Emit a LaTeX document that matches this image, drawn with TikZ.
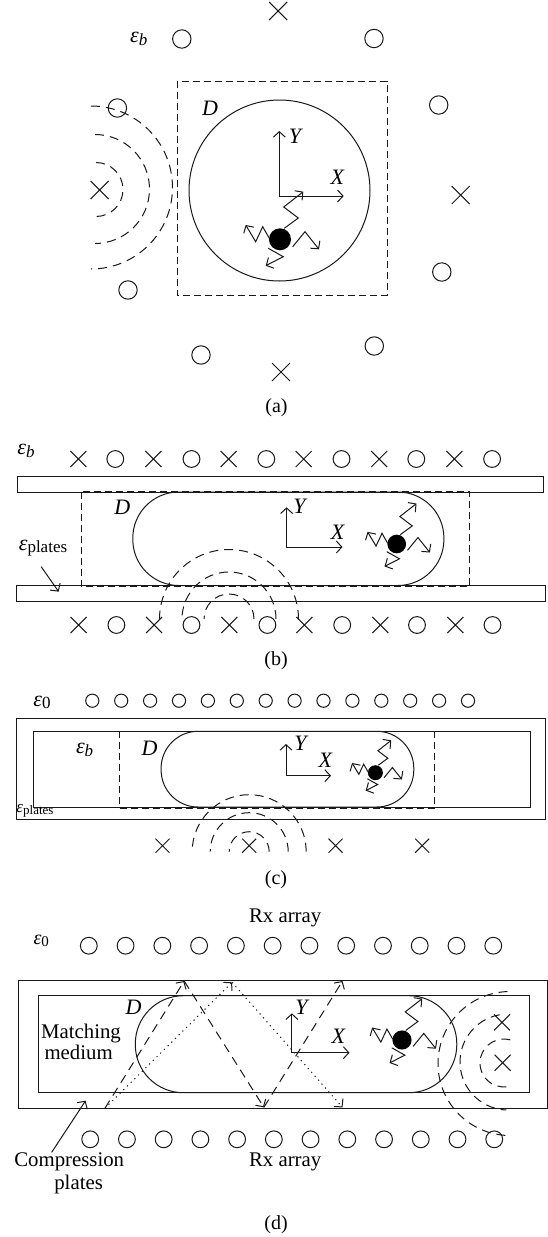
\documentclass[tikz,border=0pt]{standalone}
\usepackage{fontspec}
\setmainfont{Liberation Serif}
\usetikzlibrary{arrows.meta}
\newcommand\fs[1]{\fontsize{#1}{#1}\selectfont}
\newcommand\epsub[3]{{\fs{#1}\itshape ε}{\fs{#2}\raisebox{-.3ex}{#3}}}
\tikzset{
  ln/.style={line width=1pt,black!90},
  rx/.style={ln},
  dsh/.style={ln,dash pattern=on 7pt off 4pt},
  wave/.style={ln,dash pattern=on 9pt off 6pt},
  dot/.style={ln,dash pattern=on 1.2pt off 4pt},
  tip/.style={-{Straight Barb[length=5.5pt,width=12pt,line width=1pt]}},
  barb/.style={ln,tip},
  lab/.style={inner sep=0pt,font=\fs{20}},
  big/.style={inner sep=0pt,font=\fs{20.8}},
  ital/.style={inner sep=0pt,font=\fs{22}\itshape},
}
\newcommand\cir[3]{\draw[rx] (#1,#2) circle[radius=#3 pt];}
\newcommand\crs[3]{\draw[ln] ({#1-#3},{#2-#3}) -- ({#1+#3},{#2+#3}) ({#1-#3},{#2+#3}) -- ({#1+#3},{#2-#3});}
\newcommand\warc[6][wave]{\draw[#1] ({#2+#4*cos(#5)},{#3-#4*sin(#5)}) arc[start angle=#5,end angle=#6,radius=#4 pt];}
\newcommand\zig[3]{\begin{scope}[shift={(#1,#2)},scale=#3]
  \fill[black] (0,0) circle[radius=11pt];
  \draw[barb] (4.3,-11) -- (18.3,-21.3) -- (3.7,-32.3) -- (23.3,-47.6);
  \draw[barb] (12.7,7.4) -- (25,-7.6) -- (39,10);
  \draw[barb] (-10.7,-1) -- (-17.3,-12.6) -- (-24.3,2.4) -- (-34.3,-14.3);
  \draw[barb] (-11.7,9) -- (3.3,17.4) -- (-14.3,26.4);
\end{scope}}
\newcommand\axes[7]{% name, ox, oy, ytop, xend
  \coordinate (#1o) at (#2,#3);
  \coordinate (#1y) at (#2,#4);
  \coordinate (#1x) at (#5,#3);
  \draw[ln,{Straight Barb[length=5.5pt,width=12pt,line width=1pt]}-{Straight Barb[length=5.5pt,width=12pt,line width=1pt]}] (#1y) -- (#1o) -- (#1x);
  \node[ital] (#1Y) at #6 {Y};
  \node[ital] (#1X) at #7 {X};
}
\begin{document}
\begin{tikzpicture}[x=1pt,y=-1pt]
\useasboundingbox[fill=white] (0,0) rectangle (548,1237);

%% (a)
\crs{278.2}{11}{9}\crs{99.6}{190}{9}\crs{460.7}{195}{9}\crs{281}{372}{9}
\foreach \x/\y in {181.8/39,374/38.5,117.4/108,438.7/105,128/290,441.8/272,201/355,374.3/346}{\cir{\x}{\y}{9.2}}
\draw[dsh] (177.2,81) rectangle (387.3,295);
\draw[ln] (279.5,190.5) circle[radius=90.5pt];
\axes{a}{279.3}{196}{131}{343.7}{(295,136)}{(337.3,177)}
\zig{280}{239.3}{1}
\node[ital] (aD) at (210,108) {D};
\node[inner sep=0pt] (aE) at (138.8,39) {\epsub{22}{17}{\itshape b}};
\warc{91}{187.5}{81.5}{90}{-90}
\warc{95}{189}{54.5}{90}{-90}
\warc{96}{189.5}{27}{90}{-90}
\node[lab] (acap) at (276.5,407.5) {(a)};

%% (b)
\node[inner sep=0pt] (bE) at (26,451) {\epsub{22}{17}{\itshape b}};
\foreach \x in {78.3,153.4,228.6,303.7,379.2,454.4}{\crs{\x}{459}{8}}
\foreach \x in {115.3,191.5,266.3,341.5,416.3,492.1}{\cir{\x}{459}{8.4}}
\draw[ln] (17.5,476.7) rectangle (543.5,492.3);
\draw[ln] (16.4,585.7) rectangle (545.3,601);
\draw[dsh] (81,491.5) rectangle (469.4,586);
\draw[ln,rounded corners=46pt] (132.8,492) rectangle (443.9,585.5);
\axes{b}{286.6}{547}{507.3}{342.5}{(299.5,506.7)}{(337.6,532.3)}
\zig{396.7}{544}{.85}
\node[ital] (bD) at (122.3,507.7) {D};
\node[inner sep=0pt] (bP) at (43,548) {\epsub{22}{17}{plates}};
\coordinate (bA) at (41.2,566.7);
\coordinate (bB) at (58.7,591.7);
\draw[barb] (bA) -- (bB);
\foreach \x in {78.6,154.1,229.3,304.4,380.3,455.4}{\crs{\x}{625}{8}}
\foreach \x in {116.4,191.5,267.4,342.2,417,492.5}{\cir{\x}{625}{8.4}}
\warc{229}{619}{69.5}{0}{180}
\warc{229}{619}{47}{0}{180}
\warc{229}{619}{25}{0}{180}
\node[lab] (bcap) at (276,660.7) {(b)};

%% (c)
\node[inner sep=0pt] (cE) at (42,702.5) {\epsub{22}{17}{0}};
\foreach \i in {0,...,13}{\cir{92.3+28.9*\i}{700.7}{6.6}}
\draw[ln] (16.4,718.7) rectangle (545.3,819.7);
\draw[ln] (33.2,731.3) rectangle (530.6,807);
\draw[dsh] (119.2,731.3) rectangle (434.8,808);
\draw[ln,rounded corners=37pt] (161.1,731.3) rectangle (413.8,807);
\axes{c}{286}{775.7}{744}{331}{(300.6,743.3)}{(325.4,760)}
\zig{375.4}{772.7}{.68}
\node[ital] (cD) at (149.6,748.3) {D};
\node[inner sep=0pt] (cB) at (84.6,750) {\epsub{22}{17}{\itshape b}};
\node[inner sep=0pt] (cP) at (35,810.7) {\epsub{17}{13}{plates}};
\foreach \x in {162.5,249.2,335.5,422.2}{\crs{\x}{845.7}{7}}
\warc{249.2}{851.7}{57}{0}{180}
\warc{249.2}{851.7}{39}{0}{180}
\warc{249.2}{851.7}{20}{0}{180}
\node[lab] (ccap) at (276,879.3) {(c)};

%% (d)
\node[big] (dR1) at (285.2,917.5) {Rx array};
\node[inner sep=0pt] (dE) at (41.2,941) {\epsub{20}{15}{0}};
\foreach \i in {0,...,11}{\cir{88.8+36.77*\i}{945.7}{8.4}}
\draw[ln] (18.5,980) rectangle (547.5,1108.3);
\draw[ln] (38.4,995.7) rectangle (529.9,1092.7);
\draw[ln,rounded corners=48pt] (135.3,995.7) rectangle (456.8,1092.7);
\axes{d}{291.9}{1052.7}{1013.3}{349.5}{(301.6,1007.3)}{(338.3,1036.7)}
\zig{402}{1040}{.87}
\node[ital] (dD) at (133.5,1007.3) {D};
\node[big] (dM1) at (81,1033.3) {Matching};
\node[big] (dM2) at (78.6,1052.3) {medium};
\coordinate (d0) at (104.9,1108.3);
\coordinate (d1) at (184.2,981);
\coordinate (d2) at (263.9,1107.3);
\coordinate (d3) at (342.5,981);
\coordinate (d4) at (232.1,982.3);
\coordinate (d5) at (342.5,1107.3);
\draw[wave,tip] (d0) -- (d1);
\draw[wave,tip] (d1) -- (d2);
\draw[wave,tip] (d2) -- (d3);
\draw[dot,tip] (d0) -- (d4);
\draw[dot,tip] (d4) -- (d5);
\crs{502}{1022.3}{8}\crs{502.6}{1062.7}{8}
\warc{510}{1063.5}{72}{92}{268}
\warc{508}{1062}{48}{100}{268}
\warc{504}{1063}{24}{75}{280}
\foreach \i in {0,...,11}{\cir{90.2+36.73*\i}{1139.3}{8.4}}
\node[big] (dC1) at (69.2,1161.7) {Compression};
\node[big] (dC2) at (78.6,1184.3) {plates};
\node[big] (dR2) at (285.2,1161.7) {Rx array};
\coordinate (dA) at (51.7,1152.3);
\coordinate (dB) at (85.6,1100.7);
\draw[barb] (dA) -- (dB);
\node[lab] (dcap) at (276,1225) {(d)};
\end{tikzpicture}
\end{document}
